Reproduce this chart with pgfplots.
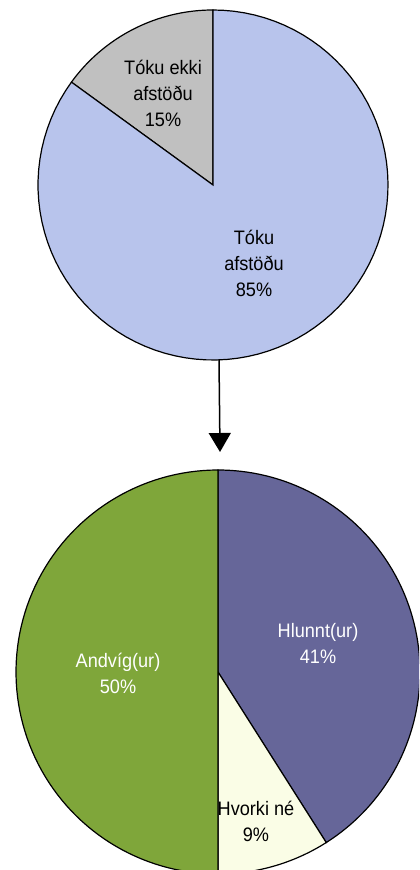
\documentclass[border=0pt]{standalone}
\usepackage{pgfplots}
\pgfplotsset{compat=1.18}
\usepackage{fontspec}
\setmainfont[FakeStretch=0.93]{Liberation Sans}
\usetikzlibrary{arrows.meta}
\definecolor{cblue}{RGB}{184,196,236}
\definecolor{cgray}{RGB}{192,192,192}
\definecolor{cgreen}{RGB}{127,166,58}
\definecolor{cpurple}{RGB}{102,102,153}
\definecolor{cyellow}{RGB}{250,253,230}
% data (percent)
\def\TokuEkki{15}
\def\Toku{85}
\def\Hlunnt{41}
\def\Hvorki{9}
\def\Andvig{50}
\begin{document}
\begin{tikzpicture}
\begin{axis}[
  name=pies,
  width=419bp, height=870bp, scale only axis,
  xmin=0, xmax=419, ymin=0, ymax=870,
  hide axis, clip=true,
  every axis plot/.append style={draw=black, line width=1.2bp, samples=90},
]
% ---- top pie: centre (213,685), r=175, start at 90 deg counterclockwise
\pgfmathsetmacro{\aA}{90}
\pgfmathsetmacro{\aB}{90+3.6*\TokuEkki}
\pgfmathsetmacro{\aC}{\aB+3.6*\Toku}
\addplot[fill=cgray, domain=\aA:\aB] ({213+175*cos(x)},{685+175*sin(x)}) -- (213,685) -- cycle;
\addplot[fill=cblue, domain=\aB:\aC] ({213+175*cos(x)},{685+175*sin(x)}) -- (213,685) -- cycle;
% ---- bottom pie: centre (218,198), r=202, start at 90 deg clockwise
\pgfmathsetmacro{\bA}{90}
\pgfmathsetmacro{\bB}{90-3.6*\Hlunnt}
\pgfmathsetmacro{\bC}{\bB-3.6*\Hvorki}
\pgfmathsetmacro{\bD}{\bC-3.6*\Andvig}
\addplot[fill=cpurple, domain=\bB:\bA] ({218+202*cos(x)},{198+202*sin(x)}) -- (218,198) -- cycle;
\addplot[fill=cyellow, domain=\bC:\bB] ({218+202*cos(x)},{198+202*sin(x)}) -- (218,198) -- cycle;
\addplot[fill=cgreen, domain=\bD:\bC] ({218+202*cos(x)},{198+202*sin(x)}) -- (218,198) -- cycle;
% arrow
\draw[line width=1.5bp, -{Triangle[width=22bp,length=19bp]}] (219,510) -- (220,418);
% labels
\begin{scope}[every node/.style={align=center, font=\fontsize{19.5bp}{26bp}\selectfont}]
\node[text=black] at (163,777) {Tóku ekki\\afstöðu\\15\%};
\node[text=black] at (254,607) {Tóku\\afstöðu\\85\%};
\node[text=white] at (118,197) {Andvíg(ur)\\50\%};
\node[text=white] at (318,227) {Hlunnt(ur)\\41\%};
\node[text=black] at (256,49) {Hvorki né\\9\%};
\end{scope}
\end{axis}
\pgfresetboundingbox
\path[use as bounding box] (pies.south west) rectangle (pies.north east);
\end{tikzpicture}
\end{document}
